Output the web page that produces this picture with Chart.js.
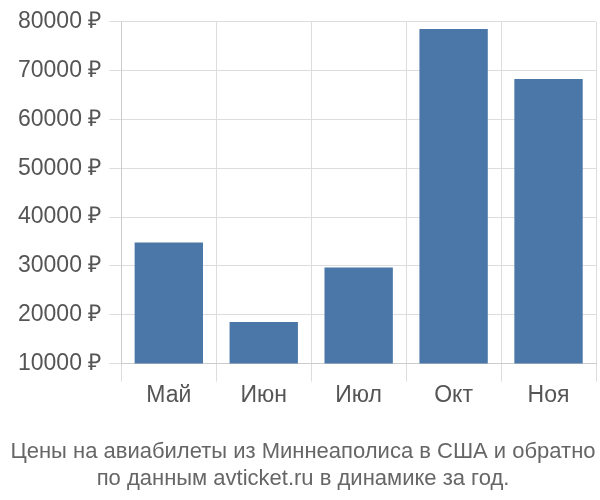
<!DOCTYPE html>
<html><head><meta charset="utf-8">
<script src="https://cdn.jsdelivr.net/npm/chart.js@4"></script>
<style>body{margin:0;background:#fff}#w{width:600px;height:500px}</style>
</head><body><div id="w"><canvas id="c"></canvas></div>
<script>
const categories = ["Май","Июн","Июл","Окт","Ноя"];
const prices = [34800, 18500, 29700, 78500, 68300];
const yTicks = [10000,20000,30000,40000,50000,60000,70000,80000];
Chart.defaults.font.family = "'Liberation Sans', Arial, sans-serif";
new Chart(document.getElementById('c'), {
  type: 'bar',
  data: { labels: categories, datasets: [{ data: prices, backgroundColor: '#4a76a8', barPercentage: 0.72, categoryPercentage: 1 }] },
  options: {
    responsive: true, maintainAspectRatio: false, animation: false,
    layout: { padding: { left: 10, right: 4, top: 4, bottom: 0 } },
    plugins: {
      legend: { display: false }, tooltip: { enabled: false },
      title: { display: true, position: 'bottom', text: ['Цены на авиабилеты из Миннеаполиса в США и обратно','по данным avticket.ru в динамике за год.'],
        color: '#666', font: { size: 22, weight: 'normal' }, padding: { top: 30, bottom: 8 }, lineHeight: 1.25 }
    },
    scales: {
      x: { grid: { color: '#ddd', offset: true, tickLength: 18 }, border: { color: '#ccc' },
        ticks: { color: '#555', font: { size: 23 }, padding: 0 } },
      y: { min: 10000, max: 80000, afterBuildTicks: a => { a.ticks = yTicks.map(v => ({ value: v })); },
        grid: { color: '#ddd', tickLength: 12 }, border: { color: '#ccc' },
        ticks: { color: '#555', font: { size: 23 }, padding: 8, callback: v => v + ' ₽' } }
    }
  }
});
</script></body></html>
